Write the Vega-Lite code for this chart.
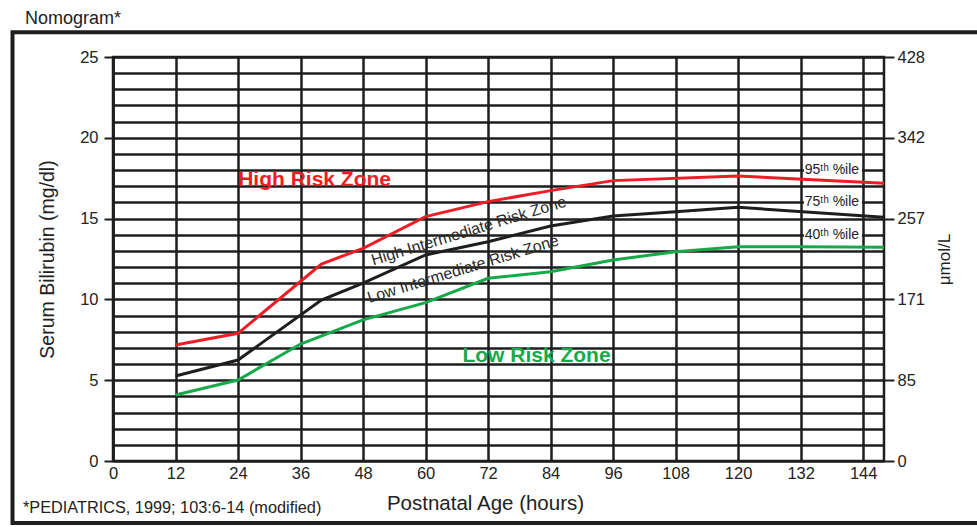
{
  "$schema": "https://vega.github.io/schema/vega-lite/v6.json",
  "width": 771,
  "height": 404,
  "autosize": {"type": "none"},
  "padding": {"left": 113, "top": 57, "right": 93, "bottom": 66},
  "background": "white",
  "config": {
    "view": {"stroke": "#1e1e1e", "strokeWidth": 2.5},
    "font": "Liberation Sans",
    "axis": {"labelFont": "Liberation Sans", "titleFont": "Liberation Sans", "labelColor": "#222222", "titleColor": "#222222", "titleFontWeight": "normal"}
  },
  "datasets": {
    "curves": [
      {"percentile": "95th", "hours": 12, "bilirubin": 7.18},
      {"percentile": "95th", "hours": 24, "bilirubin": 7.9},
      {"percentile": "95th", "hours": 40, "bilirubin": 12.19},
      {"percentile": "95th", "hours": 48, "bilirubin": 13.16},
      {"percentile": "95th", "hours": 60, "bilirubin": 15.12},
      {"percentile": "95th", "hours": 72, "bilirubin": 16.05},
      {"percentile": "95th", "hours": 84, "bilirubin": 16.73},
      {"percentile": "95th", "hours": 96, "bilirubin": 17.35},
      {"percentile": "95th", "hours": 120, "bilirubin": 17.64},
      {"percentile": "95th", "hours": 148, "bilirubin": 17.18},
      {"percentile": "75th", "hours": 12, "bilirubin": 5.26},
      {"percentile": "75th", "hours": 24, "bilirubin": 6.25},
      {"percentile": "75th", "hours": 40, "bilirubin": 9.96},
      {"percentile": "75th", "hours": 48, "bilirubin": 11.0},
      {"percentile": "75th", "hours": 60, "bilirubin": 12.75},
      {"percentile": "75th", "hours": 72, "bilirubin": 13.57},
      {"percentile": "75th", "hours": 84, "bilirubin": 14.54},
      {"percentile": "75th", "hours": 96, "bilirubin": 15.16},
      {"percentile": "75th", "hours": 108, "bilirubin": 15.43},
      {"percentile": "75th", "hours": 120, "bilirubin": 15.7},
      {"percentile": "75th", "hours": 148, "bilirubin": 15.08},
      {"percentile": "40th", "hours": 12, "bilirubin": 4.08},
      {"percentile": "40th", "hours": 24, "bilirubin": 5.01},
      {"percentile": "40th", "hours": 36, "bilirubin": 7.24},
      {"percentile": "40th", "hours": 48, "bilirubin": 8.73},
      {"percentile": "40th", "hours": 60, "bilirubin": 9.8},
      {"percentile": "40th", "hours": 72, "bilirubin": 11.31},
      {"percentile": "40th", "hours": 84, "bilirubin": 11.71},
      {"percentile": "40th", "hours": 96, "bilirubin": 12.44},
      {"percentile": "40th", "hours": 108, "bilirubin": 12.95},
      {"percentile": "40th", "hours": 120, "bilirubin": 13.26},
      {"percentile": "40th", "hours": 132, "bilirubin": 13.26},
      {"percentile": "40th", "hours": 148, "bilirubin": 13.22}
    ],
    "pctLabels": [
      {"label": "95ᵗʰ %ile", "bilirubin": 18},
      {"label": "75ᵗʰ %ile", "bilirubin": 16},
      {"label": "40ᵗʰ %ile", "bilirubin": 14}
    ],
    "highZone": [{"text": "High Risk Zone", "hours": 38.7, "bilirubin": 17.39}],
    "lowZone": [{"text": "Low Risk Zone", "hours": 81.3, "bilirubin": 6.52}],
    "midZones": [
      {"text": "High Intermediate Risk Zone", "hours": 68.3, "bilirubin": 14.23},
      {"text": "Low Intermediate Risk Zone", "hours": 67.2, "bilirubin": 11.87}
    ],
    "notes": [
      {"text": "Nomogram*", "hours": -16.89, "bilirubin": 27.35},
      {"text": "*PEDIATRICS, 1999; 103:6-14 (modified)", "hours": -17.28, "bilirubin": -2.91}
    ]
  },
  "resolve": {"axis": {"x": "independent", "y": "independent"}},
  "layer": [
    {
      "data": {"name": "curves"},
      "mark": {"type": "line", "strokeWidth": 3},
      "encoding": {
        "x": {
          "field": "hours", "type": "quantitative",
          "scale": {"domain": [0, 148], "nice": false, "zero": false},
          "axis": {
            "orient": "bottom",
            "values": [0, 12, 24, 36, 48, 60, 72, 84, 96, 108, 120, 132, 144],
            "grid": true, "gridColor": "#1e1e1e", "gridWidth": 2.5, "gridOpacity": 1,
            "ticks": false, "tickSize": 0, "domain": false,
            "labelFontSize": 16.5, "labelPadding": 4, "labelFlush": false, "labelOverlap": false,
            "title": "Postnatal Age (hours)", "titleFontSize": 20.5, "titlePadding": 12, "titleX": 372
          }
        },
        "y": {
          "field": "bilirubin", "type": "quantitative",
          "scale": {"domain": [0, 25], "nice": false, "zero": false},
          "axis": {
            "orient": "left",
            "values": [0, 1, 2, 3, 4, 5, 6, 7, 8, 9, 10, 11, 12, 13, 14, 15, 16, 17, 18, 19, 20, 21, 22, 23, 24, 25],
            "grid": true, "gridColor": "#1e1e1e", "gridWidth": 2.5, "gridOpacity": 1,
            "labelExpr": "datum.value % 5 === 0 ? datum.label : ''",
            "tickOpacity": {"condition": {"test": "datum.value % 5 === 0", "value": 1}, "value": 0},
            "tickSize": 9, "tickWidth": 2, "tickColor": "#1e1e1e",
            "domain": true, "domainColor": "#1e1e1e", "domainWidth": 2.5,
            "labelFontSize": 16.5, "labelPadding": 6, "labelFlush": false, "labelOverlap": false,
            "title": "Serum Bilirubin (mg/dl)", "titleFontSize": 19.5, "titlePadding": 22
          }
        },
        "color": {
          "field": "percentile", "type": "nominal",
          "scale": {"domain": ["95th", "75th", "40th"], "range": ["#ee1c25", "#1e1e1e", "#16a94a"]},
          "legend": null
        }
      }
    },
    {
      "data": {"values": [{}]},
      "mark": {"type": "rect", "fill": "white", "fillOpacity": 0, "stroke": "#1e1e1e", "strokeWidth": 4, "clip": false},
      "encoding": {
        "x": {"datum": -19.29, "type": "quantitative", "scale": {"domain": [0, 148], "nice": false, "zero": false}, "axis": null},
        "x2": {"datum": 175},
        "y": {"datum": -3.84, "type": "quantitative", "scale": {"domain": [0, 25], "nice": false, "zero": false}, "axis": null},
        "y2": {"datum": 26.53}
      }
    },
    {
      "data": {"name": "pctLabels"},
      "mark": {"type": "tick", "orient": "horizontal", "color": "white", "opacity": 1, "size": 58, "thickness": 13},
      "encoding": {
        "x": {"datum": 138.2, "type": "quantitative", "scale": {"domain": [0, 148], "nice": false, "zero": false}, "axis": null},
        "y": {"field": "bilirubin", "type": "quantitative", "scale": {"domain": [0, 25], "nice": false, "zero": false}, "axis": null}
      }
    },
    {
      "data": {"name": "pctLabels"},
      "mark": {"type": "text", "font": "Liberation Sans", "fontSize": 14, "color": "#222222", "align": "center", "baseline": "middle"},
      "encoding": {
        "x": {"datum": 138.0, "type": "quantitative", "scale": {"domain": [0, 148], "nice": false, "zero": false}, "axis": null},
        "y": {
          "field": "bilirubin", "type": "quantitative",
          "scale": {"domain": [0, 25], "nice": false, "zero": false},
          "axis": {
            "orient": "right",
            "values": [0, 5, 10, 15, 20, 25],
            "grid": false, "domain": false,
            "tickSize": 10, "tickWidth": 2, "tickColor": "#1e1e1e",
            "labelPadding": 3, "labelFontSize": 16.5, "labelFlush": false, "labelOverlap": false,
            "labelExpr": "datum.value == 0 ? '0' : datum.value == 5 ? '85' : datum.value == 10 ? '171' : datum.value == 15 ? '257' : datum.value == 20 ? '342' : '428'",
            "title": "μmol/L", "titleAngle": 270, "titleFontSize": 17, "titlePadding": 29
          }
        },
        "text": {"field": "label"}
      }
    },
    {
      "data": {"name": "highZone"},
      "mark": {"type": "text", "font": "Liberation Sans", "fontSize": 21, "fontWeight": "bold", "color": "#ee1c25", "align": "center", "baseline": "middle"},
      "encoding": {
        "x": {"field": "hours", "type": "quantitative", "scale": {"domain": [0, 148], "nice": false, "zero": false}, "axis": null},
        "y": {"field": "bilirubin", "type": "quantitative", "scale": {"domain": [0, 25], "nice": false, "zero": false}, "axis": null},
        "text": {"field": "text"}
      }
    },
    {
      "data": {"name": "lowZone"},
      "mark": {"type": "text", "font": "Liberation Sans", "fontSize": 21, "fontWeight": "bold", "color": "#16a94a", "align": "center", "baseline": "middle"},
      "encoding": {
        "x": {"field": "hours", "type": "quantitative", "scale": {"domain": [0, 148], "nice": false, "zero": false}, "axis": null},
        "y": {"field": "bilirubin", "type": "quantitative", "scale": {"domain": [0, 25], "nice": false, "zero": false}, "axis": null},
        "text": {"field": "text"}
      }
    },
    {
      "data": {"name": "midZones"},
      "mark": {"type": "text", "font": "Liberation Sans", "fontSize": 16, "color": "#2a2a2a", "align": "center", "baseline": "middle", "angle": 343},
      "encoding": {
        "x": {"field": "hours", "type": "quantitative", "scale": {"domain": [0, 148], "nice": false, "zero": false}, "axis": null},
        "y": {"field": "bilirubin", "type": "quantitative", "scale": {"domain": [0, 25], "nice": false, "zero": false}, "axis": null},
        "text": {"field": "text"}
      }
    },
    {
      "data": {"name": "notes"},
      "mark": {"type": "text", "font": "Liberation Sans", "fontSize": 16.5, "color": "#222222", "align": "left", "baseline": "middle", "clip": false},
      "encoding": {
        "x": {"field": "hours", "type": "quantitative", "scale": {"domain": [0, 148], "nice": false, "zero": false}, "axis": null},
        "y": {"field": "bilirubin", "type": "quantitative", "scale": {"domain": [0, 25], "nice": false, "zero": false}, "axis": null},
        "text": {"field": "text"},
        "size": {"field": "text", "type": "nominal", "scale": {"domain": ["Nomogram*", "*PEDIATRICS, 1999; 103:6-14 (modified)"], "range": [18, 16.3]}, "legend": null}
      }
    }
  ]
}
